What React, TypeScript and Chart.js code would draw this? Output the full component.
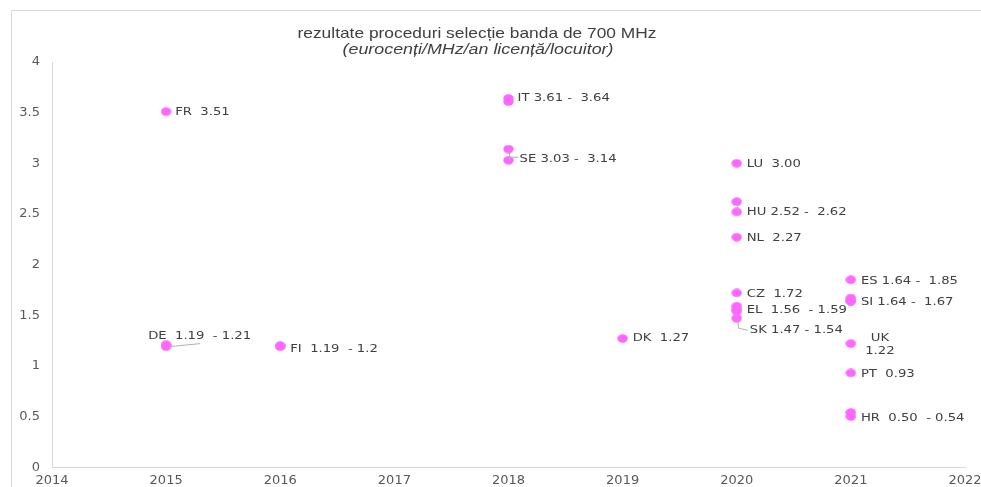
import React, { useEffect, useRef } from "react";
import { Chart, registerables } from "chart.js";

Chart.register(...registerables);

// ---- data ----
const countries = ["FR", "DE", "FI", "IT", "SE", "DK", "LU", "HU", "NL", "CZ", "EL", "SK", "ES", "SI", "UK", "PT", "HR"];
const years = [2015, 2015, 2016, 2018, 2018, 2019, 2020, 2020, 2020, 2020, 2020, 2020, 2021, 2021, 2021, 2021, 2021];
const lowValues = [3.51, 1.19, 1.19, 3.61, 3.03, 1.27, 3.0, 2.52, 2.27, 1.72, 1.56, 1.47, 1.64, 1.64, 1.22, 0.93, 0.5];
const highValues = [3.51, 1.21, 1.2, 3.64, 3.14, 1.27, 3.0, 2.62, 2.27, 1.72, 1.59, 1.54, 1.85, 1.67, 1.22, 0.93, 0.54];
const pointLabels = [
  "FR  3.51",
  "DE  1.19  - 1.21",
  "FI  1.19  - 1.2",
  "IT 3.61 -  3.64",
  "SE 3.03 -  3.14",
  "DK  1.27",
  "LU  3.00",
  "HU 2.52 -  2.62",
  "NL  2.27",
  "CZ  1.72",
  "EL  1.56  - 1.59",
  "SK 1.47 - 1.54",
  "ES 1.64 -  1.85",
  "SI 1.64 -  1.67",
  "UK\n1.22",
  "PT  0.93",
  "HR  0.50  - 0.54",
];
const yearTicks = [2014, 2015, 2016, 2017, 2018, 2019, 2020, 2021, 2022];
const valueTicks = [0, 0.5, 1, 1.5, 2, 2.5, 3, 3.5, 4];
const titleText = "rezultate proceduri selecție banda de 700 MHz";
const subtitleText = "(eurocenți/MHz/an licență/locuitor)";

// ---- label layout (pixel offsets relative to the low-value point) ----
type Layout = { dx: number; dy: number; align?: "left" | "center"; leader?: string };
const labelLayout: Layout[] = [
  { dx: 9, dy: 1 },
  { dx: -18, dy: -11, leader: "DE" },
  { dx: 10, dy: 2 },
  { dx: 9, dy: -3 },
  { dx: 11, dy: -1, leader: "SE" },
  { dx: 10, dy: 0 },
  { dx: 10, dy: 1 },
  { dx: 10, dy: 0, leader: "HU" },
  { dx: 10, dy: 1 },
  { dx: 10, dy: 1 },
  { dx: 10, dy: 1 },
  { dx: 13, dy: 12, leader: "SK" },
  { dx: 10, dy: -20 },
  { dx: 10, dy: 1 },
  { dx: 29, dy: -5, align: "center" },
  { dx: 10, dy: 1 },
  { dx: 10, dy: 2 },
];

const POINT_COLOR = "#FF66FF";
const TEXT_COLOR = "#404040";
const TICK_COLOR = "#595959";
const AXIS_COLOR = "#d9d9d9";
const LEADER_COLOR = "#b0b0b0";
const LABEL_STRETCH = 1.2;

function makeMarker(): HTMLCanvasElement {
  const c = document.createElement("canvas");
  c.width = 11;
  c.height = 9;
  const g = c.getContext("2d")!;
  g.fillStyle = POINT_COLOR;
  g.beginPath();
  g.ellipse(5.5, 4.5, 5.2, 4.2, 0, 0, Math.PI * 2);
  g.fill();
  return c;
}

function stretchedText(ctx: CanvasRenderingContext2D, text: string, x: number, y: number, sx: number) {
  ctx.save();
  ctx.translate(x, y);
  ctx.scale(sx, 1);
  ctx.fillText(text, 0, 0);
  ctx.restore();
}

function fitText(ctx: CanvasRenderingContext2D, text: string, cx: number, y: number, width: number) {
  const w = ctx.measureText(text).width;
  ctx.save();
  ctx.translate(cx, y);
  ctx.scale(width / w, 1);
  ctx.textAlign = "center";
  ctx.fillText(text, 0, 0);
  ctx.restore();
}

const framePlugin = {
  id: "frame",
  beforeDraw(chart: any) {
    const ctx = chart.ctx;
    ctx.save();
    ctx.strokeStyle = AXIS_COLOR;
    ctx.lineWidth = 1;
    ctx.beginPath();
    ctx.moveTo(11, 10.5);
    ctx.lineTo(chart.width, 10.5);
    ctx.moveTo(11.5, 10);
    ctx.lineTo(11.5, chart.height);
    ctx.stroke();
    ctx.restore();
  },
};

const labelPlugin = {
  id: "pointLabels",
  afterDatasetsDraw(chart: any) {
    const ctx = chart.ctx;
    const xs = chart.scales.x;
    const ys = chart.scales.y;
    ctx.save();
    // title
    ctx.fillStyle = TEXT_COLOR;
    ctx.textBaseline = "middle";
    ctx.font = '15px "Liberation Sans", Arial, sans-serif';
    fitText(ctx, titleText, 477, 34, 359);
    ctx.font = 'italic 15px "Liberation Sans", Arial, sans-serif';
    fitText(ctx, subtitleText, 478, 50, 271);

    ctx.font = '11px "DejaVu Sans", Verdana, sans-serif';
    for (let i = 0; i < countries.length; i++) {
      const px = xs.getPixelForValue(years[i]);
      const py = ys.getPixelForValue(lowValues[i]);
      const hy = ys.getPixelForValue(highValues[i]);
      const lay = labelLayout[i];
      // leader lines
      ctx.strokeStyle = LEADER_COLOR;
      ctx.lineWidth = 1;
      ctx.beginPath();
      if (lay.leader === "DE") {
        ctx.moveTo(px + 3, py);
        ctx.lineTo(px + 34, py - 3);
      } else if (lay.leader === "SE") {
        ctx.moveTo(px + 1, hy);
        ctx.lineTo(px + 1, py);
        ctx.moveTo(px + 1, py - 3);
        ctx.lineTo(px + 10, py - 3);
      } else if (lay.leader === "HU") {
        ctx.moveTo(px + 1, hy);
        ctx.lineTo(px + 1, py);
      } else if (lay.leader === "SK") {
        ctx.moveTo(px + 1, py + 3);
        ctx.lineTo(px + 2, py + 10);
        ctx.lineTo(px + 11, py + 12);
      }
      ctx.stroke();
      // text
      ctx.fillStyle = TEXT_COLOR;
      ctx.textAlign = lay.align || "left";
      ctx.textBaseline = "middle";
      const lines = pointLabels[i].split("\n");
      lines.forEach((ln, k) => {
        stretchedText(ctx, ln, px + lay.dx, py + lay.dy + k * 13, LABEL_STRETCH);
      });
    }
    ctx.restore();
  },
};

export default function App() {
  const ref = useRef<HTMLCanvasElement | null>(null);
  useEffect(() => {
    document.body.style.margin = "0";
    const marker = makeMarker();
    const pts: { x: number; y: number }[] = [];
    for (let i = 0; i < countries.length; i++) {
      pts.push({ x: years[i], y: lowValues[i] });
      if (highValues[i] !== lowValues[i]) pts.push({ x: years[i], y: highValues[i] });
    }
    const tickFont = { family: '"DejaVu Sans", Verdana, sans-serif', size: 13 };
    const chart = new Chart(ref.current!, {
      type: "scatter",
      data: {
        datasets: [
          {
            label: "700 MHz",
            data: pts,
            pointStyle: marker as any,
            backgroundColor: POINT_COLOR,
            borderColor: POINT_COLOR,
            pointRadius: 5,
          },
        ],
      },
      options: {
        responsive: false,
        animation: false,
        layout: { padding: { left: 12, right: 0, top: 62, bottom: 0 } },
        plugins: {
          legend: { display: false },
          tooltip: { enabled: false },
          title: { display: false },
        },
        scales: {
          x: {
            type: "linear",
            min: yearTicks[0],
            max: yearTicks[yearTicks.length - 1],
            afterBuildTicks: (s: any) => {
              s.ticks = yearTicks.map((v) => ({ value: v }));
            },
            afterFit: (s: any) => {
              s.height = 19;
              s.paddingRight = 16;
            },
            grid: { display: false, drawTicks: false },
            border: { display: true, color: AXIS_COLOR, width: 1 },
            ticks: {
              padding: 6,
              color: TICK_COLOR,
              font: tickFont,
              maxRotation: 0,
              autoSkip: false,
              callback: (v: any) => String(v),
            },
          },
          y: {
            type: "linear",
            min: valueTicks[0],
            max: valueTicks[valueTicks.length - 1],
            afterBuildTicks: (s: any) => {
              s.ticks = valueTicks.map((v) => ({ value: v }));
            },
            afterFit: (s: any) => {
              s.width = 40;
            },
            grid: { display: false, drawTicks: false },
            border: { display: true, color: AXIS_COLOR, width: 1 },
            ticks: {
              padding: 12,
              color: TICK_COLOR,
              font: tickFont,
              callback: (v: any) => String(v),
            },
          },
        },
      },
      plugins: [framePlugin, labelPlugin],
    });
    return () => chart.destroy();
  }, []);
  return (
    <div style={{ width: 981, height: 487, background: "#fff" }}>
      <canvas ref={ref} width={981} height={487} style={{ display: "block" }} />
    </div>
  );
}
